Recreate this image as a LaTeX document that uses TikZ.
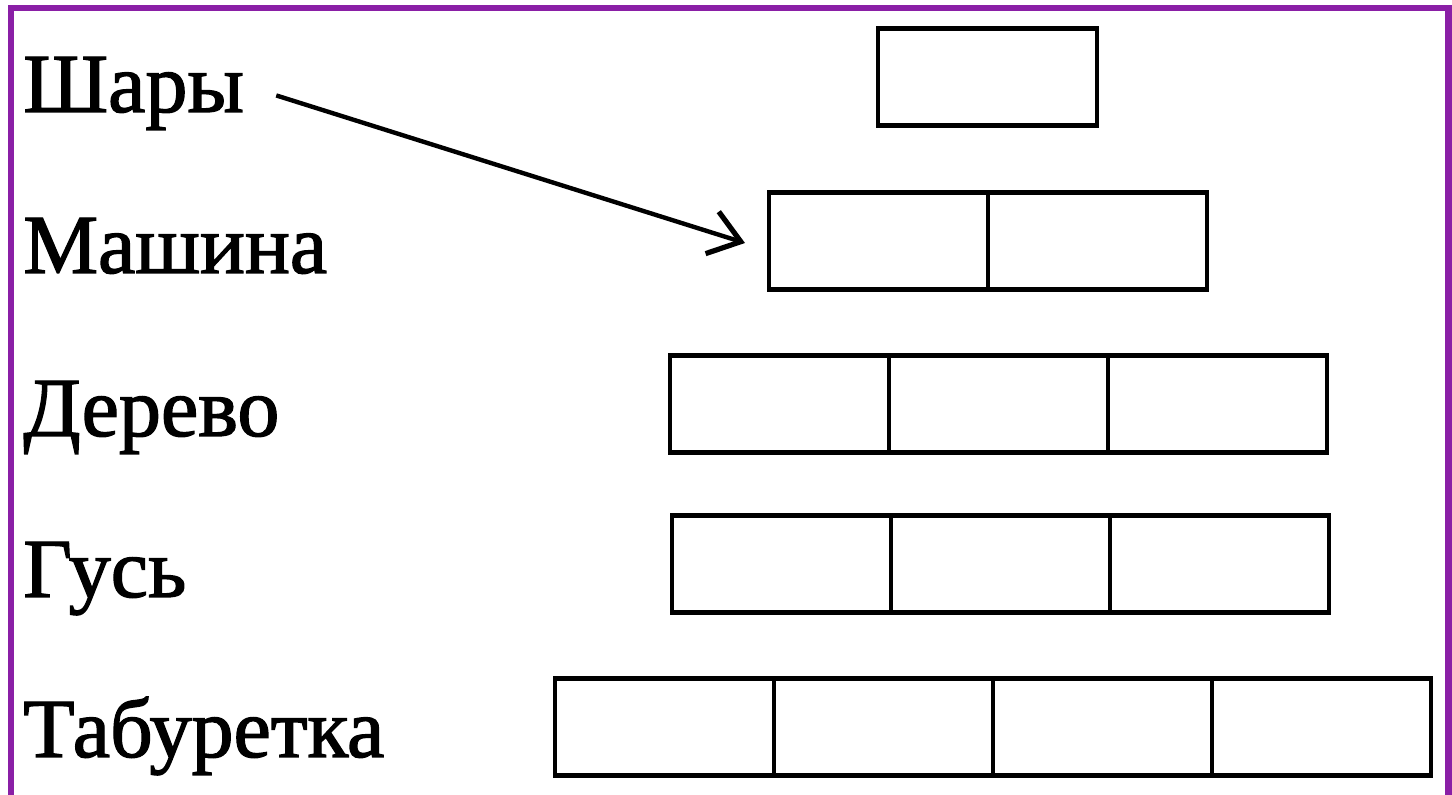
\documentclass[tikz,border=0pt]{standalone}
\usepackage{fontspec}
\setmainfont{Liberation Serif}
\newfontfamily\lblfont{Liberation Serif}[FakeBold=1.6]
\usetikzlibrary{arrows.meta}
\definecolor{frame}{HTML}{8A1FA6}
\tikzset{
  cell/.style={draw=black, line width=2.4pt, minimum width=109.5pt, minimum height=48.5pt, inner sep=0pt, outer sep=0pt, anchor=west},
  label/.style={anchor=base west, inner sep=0pt, font=\lblfont\fontsize{42}{44}\selectfont},
  arr/.style={line width=2.2pt, -{Straight Barb[length=15pt, width=22pt, line width=2.6pt]}}
}
\begin{document}
\begin{tikzpicture}[x=0.5pt, y=-0.5pt]
\useasboundingbox (0,0) rectangle (1452,795);
\fill[white] (0,0) rectangle (1452,795);
% frame
\fill[frame] (8,5) rectangle (1452,11);
\fill[frame] (8,5) rectangle (14,795);
\fill[frame] (1445,5) rectangle (1452,795);
% labels
\node[label] (shary) at (23,112) {Шары};
\node[label] (mashina) at (23,273) {Машина};
\node[label] (derevo) at (23,436) {Дерево};
\node[label] (gus) at (23,597) {Гусь};
\node[label] (tab) at (23,757) {Табуретка};
% row 1
\node[cell] (r1a) at (878,77) {};
% row 2
\node[cell] (r2a) at (769,241) {};
\node[cell] (r2b) at (r2a.east) {};
% row 3
\node[cell] (r3a) at (670,404) {};
\node[cell] (r3b) at (r3a.east) {};
\node[cell] (r3c) at (r3b.east) {};
% row 4
\node[cell] (r4a) at (672,564) {};
\node[cell] (r4b) at (r4a.east) {};
\node[cell] (r4c) at (r4b.east) {};
% row 5
\node[cell] (r5a) at (555,727) {};
\node[cell] (r5b) at (r5a.east) {};
\node[cell] (r5c) at (r5b.east) {};
\node[cell] (r5d) at (r5c.east) {};
% arrow
\draw[arr] ([xshift=16pt,yshift=-1pt]shary.east) -- ([xshift=-12pt,yshift=-1pt]r2a.west);
\end{tikzpicture}
\end{document}
